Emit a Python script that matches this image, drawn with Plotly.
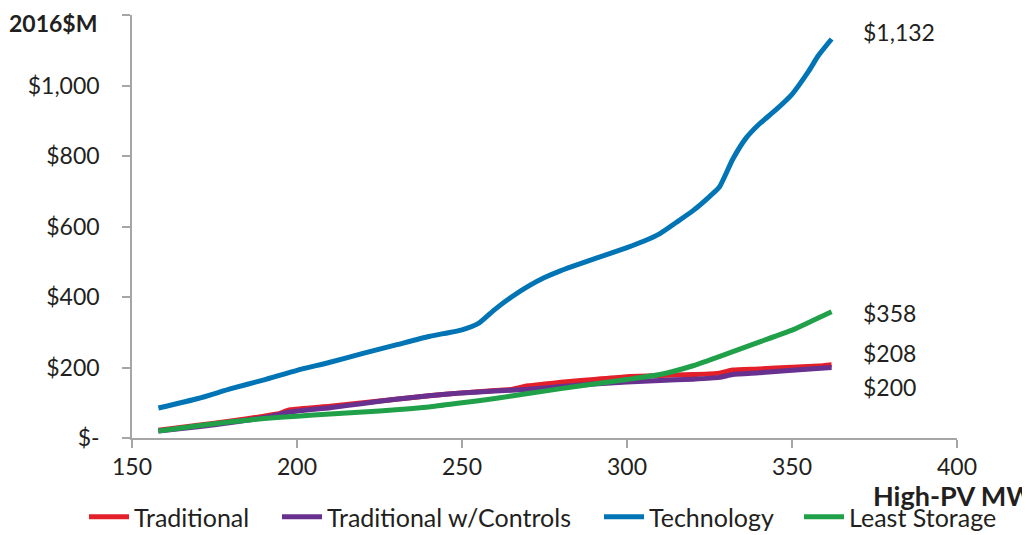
import plotly.graph_objects as go

# ---- data ----
tech_x = [158, 170, 180, 190, 200, 210, 220, 230, 240, 250, 255, 260, 265, 270, 275, 280, 290, 300, 305, 310, 315, 320, 325, 328, 332, 336, 340, 345, 350, 355, 358, 362]
tech_y = [85, 112, 140, 165, 192, 215, 240, 264, 288, 307, 325, 365, 400, 430, 455, 475, 508, 540, 558, 580, 612, 645, 685, 712, 790, 850, 890, 930, 975, 1040, 1085, 1132]

green_x = [158, 170, 180, 190, 200, 210, 220, 230, 240, 250, 260, 270, 280, 290, 300, 310, 320, 330, 340, 350, 356, 362]
green_y = [20, 35, 46, 55, 62, 68, 74, 80, 88, 100, 112, 126, 140, 153, 166, 180, 205, 238, 272, 306, 332, 358]

red_x = [158, 170, 180, 190, 194, 198, 210, 220, 230, 240, 250, 260, 265, 270, 275, 280, 290, 300, 310, 320, 328, 332, 340, 350, 358, 362]
red_y = [22, 36, 48, 62, 68, 80, 90, 100, 110, 120, 128, 135, 138, 148, 153, 158, 166, 174, 177, 180, 184, 193, 196, 201, 204, 208]

purple_x = [158, 170, 180, 190, 198, 210, 220, 230, 240, 250, 260, 270, 280, 290, 300, 310, 320, 328, 332, 340, 350, 362]
purple_y = [20, 32, 44, 58, 74, 86, 98, 110, 120, 128, 133, 138, 146, 153, 159, 163, 167, 172, 180, 185, 192, 200]

series_names = ["Traditional", "Traditional w/Controls", "Technology", "Least Storage"]
end_labels = ["$208", "$200", "$1,132", "$358"]

y_tick_vals = [0, 200, 400, 600, 800, 1000, 1200]
y_tick_text = ["$-", "$200", "$400", "$600", "$800", "$1,000", ""]
y_axis_title = "2016$M"
x_axis_title = "High-PV MW"
x_tick_vals = [150, 200, 250, 300, 350, 400]

# ---- style ----
FONT = "Lato, 'Open Sans', sans-serif"
TXT = "#231F20"
AX = "#A6A6A6"
colors = ["#E3202A", "#68308F", "#0074B4", "#21A04A"]
OFF = 8  # page body margin
W, H = 1030, 535
L = 132 - OFF
T = 15 - OFF
R = W - (957 - OFF)
B = H - (438 - OFF)
PW, PH = W - L - R, H - T - B
BOTTOM = H - B  # plot bottom in figure px


def py(page_y):
    return -((page_y - OFF) - BOTTOM) / PH


def px(page_x):
    return ((page_x - OFF) - L) / PW


legend_ids = ["legend", "legend2", "legend3", "legend4"]
legend_text_start = [135, 328, 650, 850]

fig = go.Figure()
for name, xs, ys, c, lg in zip(series_names,
                               [red_x, purple_x, tech_x, green_x],
                               [red_y, purple_y, tech_y, green_y],
                               colors, legend_ids):
    fig.add_trace(go.Scatter(x=xs, y=ys, name=name, mode="lines", legend=lg,
                             line=dict(color=c, width=5, shape="spline", smoothing=0.5)))

# end value labels
ends = [(red_y[-1], end_labels[0], 12), (purple_y[-1], end_labels[1], -19),
        (tech_y[-1], end_labels[2], 7), (green_y[-1], end_labels[3], -1)]
for yv, txt, sh in ends:
    fig.add_annotation(x=371, y=yv, xref="x", yref="y", text=txt, showarrow=False,
                       xanchor="left", yanchor="middle", yshift=sh,
                       font=dict(family=FONT, size=23, color=TXT))

fig.add_annotation(x=px(871), y=py(495), xref="paper", yref="paper",
                   text=f"<b>{x_axis_title}</b>", showarrow=False, xanchor="left", yanchor="middle",
                   font=dict(family=FONT, size=27, color=TXT))

fig.add_annotation(x=px(99), y=py(7), xref="paper", yref="paper",
                   text=f"<b>{y_axis_title}</b>", showarrow=False, xanchor="right", yanchor="top",
                   font=dict(family=FONT, size=23, color=TXT))

legend_layout = {}
for lg, ts in zip(legend_ids, legend_text_start):
    legend_layout[lg] = dict(orientation="h", x=px(ts - 51), xanchor="left",
                             y=py(494), yanchor="top", bgcolor="rgba(0,0,0,0)",
                             font=dict(family=FONT, size=25, color=TXT),
                             itemwidth=40)

fig.update_layout(
    width=W, height=H,
    margin=dict(l=L, r=R, t=T, b=B, autoexpand=False),
    paper_bgcolor="white", plot_bgcolor="white",
    font=dict(family=FONT, size=22, color=TXT),
    showlegend=True,
    xaxis=dict(range=[150, 400], tickvals=x_tick_vals, showgrid=False, zeroline=False,
               automargin=False,
               showline=True, linecolor=AX, linewidth=1.5, ticks="outside", ticklen=8,
               tickcolor=AX, tickwidth=1.5, tickfont=dict(family=FONT, size=23, color=TXT)),
    yaxis=dict(range=[0, 1200], tickvals=y_tick_vals, ticktext=y_tick_text, showgrid=False,
               automargin=False, ticklabelstandoff=18,
               zeroline=False, showline=True, linecolor=AX, linewidth=1.5, ticks="outside",
               ticklen=8, tickcolor=AX, tickwidth=1.5,
               tickfont=dict(family=FONT, size=23, color=TXT)),
    **legend_layout,
)

fig.write_html("out.html")
